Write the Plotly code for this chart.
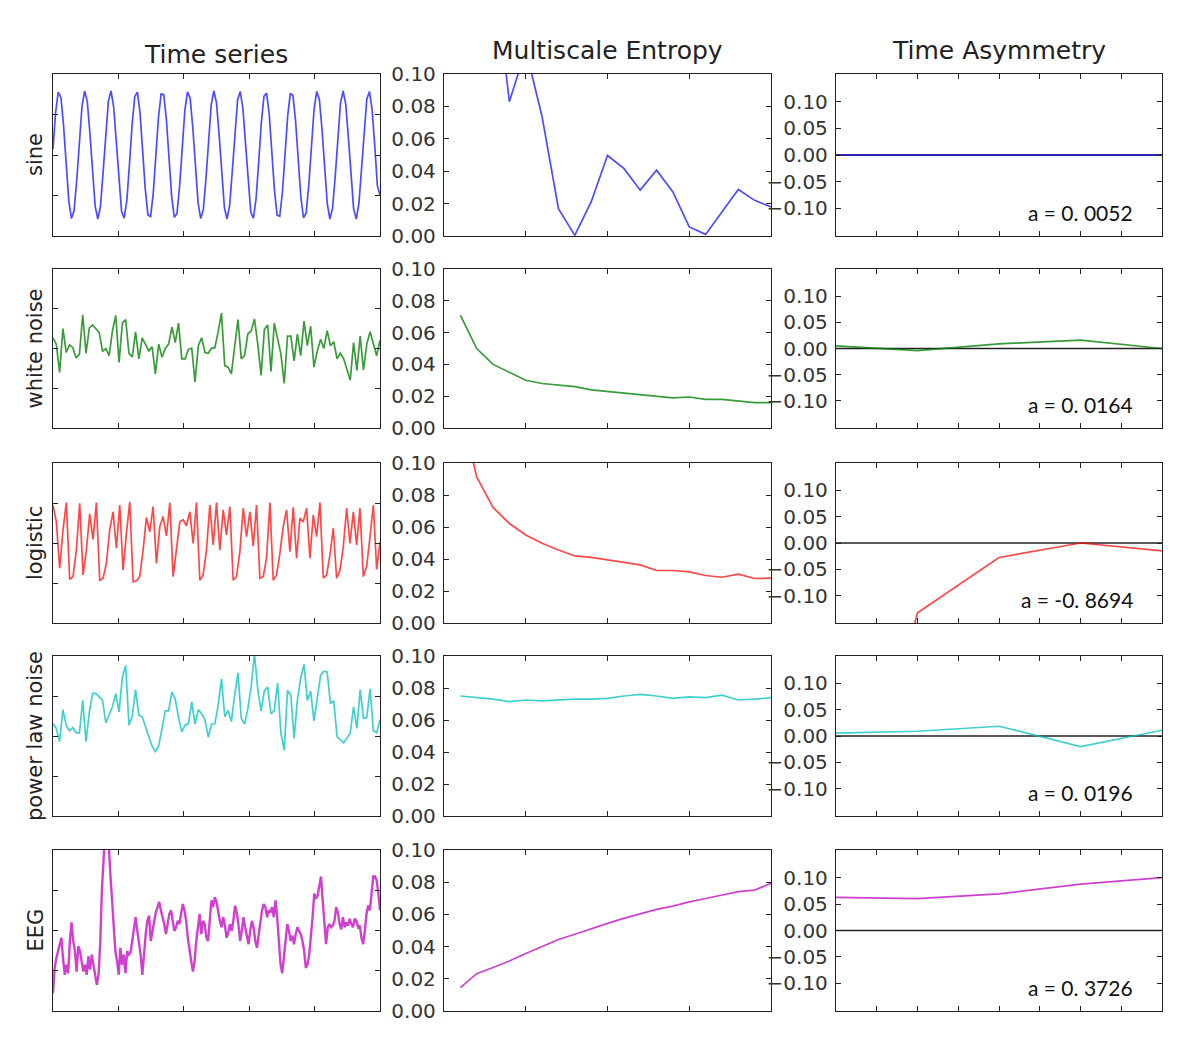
import plotly.graph_objects as go
from plotly.subplots import make_subplots

# ---------------- data ----------------
row_names = ["sine", "white noise", "logistic", "power law noise", "EEG"]
col_titles = ["Time series", "Multiscale Entropy", "Time Asymmetry"]
asym_labels = ["a = 0. 0052", "a = 0. 0164", "a = -0. 8694", "a = 0. 0196", "a = 0. 3726"]

sine_ts = [0.15, 1.06, 1.55, 1.42, 0.73, -0.25, -1.14, -1.57, -1.37, -0.63, 0.36, 1.21, 1.58, 1.32, 0.53,
           -0.46, -1.27, -1.58, -1.26, -0.43, 0.56, 1.33, 1.58, 1.19, 0.33, -0.66, -1.39, -1.56, -1.12,
           -0.23, 0.75, 1.44, 1.55, 1.04, 0.12, -0.85, -1.48, -1.52, -0.96, -0.01, 0.93, 1.51, 1.49, 0.87,
           -0.09, -1.02, -1.54, -1.45, -0.78, 0.20, 1.10, 1.56, 1.40, 0.69, -0.30, -1.17, -1.57, -1.35,
           -0.59, 0.41, 1.24, 1.58, 1.29, 0.49, -0.51, -1.30, -1.58, -1.23, -0.39, 0.61, 1.36, 1.57, 1.16,
           0.28, -0.70, -1.41, -1.56, -1.08, -0.18, 0.80, 1.45, 1.53, 1.00, 0.07, -0.89, -1.49, -1.51,
           -0.92, 0.03, 0.97, 1.52, 1.47, 0.83, -0.14, -1.05, -1.55, -1.43, -0.74, 0.24, 1.13, 1.57, 1.38,
           0.64, -0.35, -1.20, -1.58, -1.32, -0.55, 0.45, 1.27, 1.58, 1.26, 0.44, -0.55, -1.33, -1.58,
           -1.20, -0.34, 0.65, 1.38, 1.57, 1.12, 0.24, -0.75, -1.00]

white_ts = [0.27, 0.11, -0.60, 0.50, -0.10, 0.09, 0.02, -0.24, -0.14, 0.85, -0.12, 0.52, 0.59, 0.48, 0.40,
            -0.07, 0.00, -0.18, 0.44, 0.83, -0.35, 0.64, 0.73, -0.12, -0.21, 0.42, -0.26, 0.27, 0.12, -0.06,
            0.04, -0.64, 0.11, -0.22, 0.00, 0.11, 0.54, 0.15, 0.64, -0.26, -0.26, -0.02, 0.01, -0.84, 0.07,
            0.27, -0.10, -0.12, 0.01, 0.02, 0.42, 0.89, -0.43, -0.47, -0.64, 0.02, 0.73, -0.26, -0.18, 0.37,
            0.44, 0.74, 0.11, -0.68, 0.48, 0.59, -0.58, 0.64, 0.27, -0.14, -0.88, 0.31, 0.31, -0.31, 0.36,
            -0.18, 0.69, 0.07, 0.56, -0.47, -0.07, 0.23, 0.00, 0.45, 0.07, 0.17, -0.26, -0.12, -0.26, -0.51,
            -0.80, 0.15, -0.55, 0.31, -0.54, 0.11, 0.42, 0.12, -0.18, 0.21]

logistic_ts = [0.95, 0.53, -0.63, 0.33, 1.01, -0.91, -0.84, -0.18, 0.99, -0.80, -0.18, 0.73, 0.09, 1.01,
               -0.94, -0.88, -0.51, 0.33, 0.78, -0.13, 0.95, -0.68, 0.24, 1.03, -0.97, -0.95, -0.84, -0.18,
               0.64, 0.28, 0.91, -0.51, 0.41, 0.66, 0.18, 1.01, -0.84, -0.18, 0.53, 0.58, 0.43, 0.78, -0.01,
               1.01, -0.93, -0.80, -0.18, 0.95, -0.05, 1.01, -0.18, 0.83, 0.20, 0.91, -0.93, -0.84, -0.22,
               0.87, 0.16, 0.78, -0.08, 0.95, -0.88, -0.84, -0.38, 1.01, -0.93, -0.80, -0.26, 0.41, 0.83,
               -0.22, 0.89, -0.38, 0.62, 0.53, 0.87, -0.38, 0.70, 0.16, 1.01, -0.88, -0.80, -0.30, 0.37,
               -0.88, -0.68, -0.09, 0.87, -0.01, 0.78, -0.05, 0.87, -0.84, -0.59, 0.16, 0.95, -0.66, 0.03]

power_ts = [0.31, 0.19, -0.14, 0.66, 0.27, 0.13, 0.21, 0.08, 0.08, 0.89, -0.14, 0.60, 1.07, 1.06, 0.98,
            0.89, 0.33, 0.55, 0.73, 1.06, 0.60, 1.47, 1.76, 0.27, 0.50, 1.16, 0.52, 0.48, 0.21, -0.02,
            -0.25, -0.39, -0.25, 0.21, 0.63, 0.63, 1.10, 0.93, 0.46, 0.11, 0.27, 0.31, 0.85, 0.30, 0.66,
            0.55, 0.41, -0.03, 0.30, 0.30, 0.77, 1.43, 0.48, 0.64, 0.36, 1.02, 1.58, 0.44, 0.30, 0.69,
            1.24, 2.05, 1.16, 0.63, 1.14, 1.22, 0.55, 0.64, 1.32, 0.07, -0.36, 1.14, 1.02, -0.06, 0.91,
            1.45, 1.79, 0.89, 1.12, 0.38, 0.89, 1.51, 1.62, 1.60, 0.81, 0.88, -0.02, -0.10, -0.17, -0.06,
            0.08, 0.73, 0.19, 1.16, 0.44, 0.46, 1.18, 0.13, 0.08, 0.41]

eeg_ts = [-1.56, -0.93, -0.68, -0.51, -0.34, -0.18, -0.72, -1.10, -0.85, -1.06, -0.26, 0.20, -0.26, -0.51,
          -1.02, -0.39, -0.51, -0.76, -1.02, -0.85, -1.10, -0.64, -0.97, -0.60, -0.85, -1.18, -1.35, -1.10,
          -0.34, 1.00, 2.30, 2.50, 2.50, 2.20, 1.42, 0.75, 0.24, -0.51, -0.76, -1.10, -0.43, -0.85, -0.60,
          -1.06, -0.51, -0.60, -0.55, -0.26, 0.08, 0.33, -0.01, -0.34, -0.60, -1.10, -0.51, -0.09, 0.24,
          0.37, -0.26, -0.01, 0.24, 0.45, 0.58, 0.71, 0.50, 0.33, 0.16, -0.09, 0.12, 0.41, 0.50, 0.24,
          -0.01, 0.08, 0.24, 0.16, 0.45, 0.66, 0.50, 0.24, -0.18, -0.51, -0.76, -1.02, -0.76, -0.26, 0.16,
          0.41, -0.09, 0.24, 0.16, -0.18, -0.26, 0.33, 0.75, 0.58, 0.83, 0.71, 0.41, 0.24, 0.08, 0.33,
          0.12, -0.18, -0.05, 0.16, -0.01, 0.24, 0.62, 0.45, 0.16, -0.26, -0.01, 0.33, 0.08, -0.18, -0.34,
          -0.01, 0.24, 0.08, -0.26, -0.43, -0.09, 0.24, 0.50, 0.66, 0.58, 0.33, 0.50, 0.45, 0.58, 0.33,
          0.75, 0.33, -0.26, -0.85, -1.06, -0.60, -0.18, 0.16, -0.01, -0.26, -0.13, -0.34, -0.09, 0.08,
          -0.01, -0.09, -0.26, -0.51, -0.93, -0.85, -0.60, -0.18, 0.33, 0.92, 0.79, 0.87, 1.08, 1.34, 0.75,
          0.24, -0.34, 0.08, 0.16, 0.08, 0.12, 0.24, 0.58, 0.45, 0.16, 0.03, 0.33, 0.08, 0.20, 0.12, 0.29,
          0.16, 0.08, 0.29, 0.24, 0.08, 0.12, -0.18, -0.34, -0.01, 0.41, 0.62, 0.50, 0.92, 1.34, 1.34,
          1.25, 0.92, 0.50]

mse_scales = list(range(1, 21))
sine_mse = [0.35, 0.25, 0.168, 0.083, 0.115, 0.0736, 0.0169, 0.0004, 0.021, 0.0497, 0.0417, 0.0283,
            0.0406, 0.0272, 0.0056, 0.001, 0.0148, 0.0287, 0.022, 0.0179]
white_mse = [0.071, 0.050, 0.040, 0.035, 0.030, 0.028, 0.027, 0.026, 0.024, 0.023, 0.022, 0.021,
             0.020, 0.019, 0.0195, 0.018, 0.018, 0.017, 0.016, 0.016]
logistic_mse = [0.135, 0.0913, 0.0722, 0.0622, 0.055, 0.0498, 0.0456, 0.0419, 0.041, 0.0394, 0.0382,
                0.0363, 0.0328, 0.0328, 0.032, 0.0297, 0.0286, 0.0305, 0.0278, 0.028]
power_mse = [0.075, 0.074, 0.073, 0.0715, 0.0725, 0.072, 0.0725, 0.073, 0.073, 0.0735, 0.075, 0.076,
             0.075, 0.0735, 0.0745, 0.074, 0.0755, 0.0725, 0.073, 0.074]
eeg_mse = [0.0145, 0.0232, 0.027, 0.0311, 0.0357, 0.0402, 0.0444, 0.0477, 0.0512, 0.0544, 0.0575,
           0.0602, 0.0631, 0.0651, 0.0678, 0.0699, 0.072, 0.0741, 0.0751, 0.0793]

asym_scales = [0, 2, 4, 6, 8]
sine_asym = [0.0, 0.0, 0.0, 0.0, 0.0]
white_asym = [0.005, -0.004, 0.009, 0.016, 0.0]
logistic_asym = [-0.73, -0.1325, -0.0275, 0.0, -0.015]
power_asym = [0.0056, 0.009, 0.0185, -0.02, 0.011]
eeg_asym = [0.0625, 0.060, 0.069, 0.0875, 0.100]

series_ts = [sine_ts, white_ts, logistic_ts, power_ts, eeg_ts]
series_mse = [sine_mse, white_mse, logistic_mse, power_mse, eeg_mse]
series_asym = [sine_asym, white_asym, logistic_asym, power_asym, eeg_asym]
colors = ["rgba(0,0,255,0.70)", "rgba(0,128,0,0.78)", "rgba(255,0,0,0.72)",
          "rgba(0,191,191,0.75)", "rgba(191,0,191,0.75)"]

# ---------------- layout ----------------
W, H = 1200, 1054
OFF = 8  # page body margin
col_px = [(53, 380), (444, 771), (836, 1162)]
row_px = [(74, 236), (269, 428), (463, 623), (656, 816), (850, 1011)]
FONT = "DejaVu Sans"


def px_x(p):
    return (p - OFF) / W


def px_y(p):
    return 1 - (p - OFF) / H


fig = make_subplots(rows=5, cols=3)

axis_common = dict(showline=True, linecolor="#222", linewidth=1.3, mirror="ticks",
                   ticks="inside", ticklen=5, tickcolor="#222", tickwidth=1,
                   showgrid=False, zeroline=False, automargin=False)

for r in range(5):
    for c in range(3):
        x0, x1 = col_px[c]
        y0, y1 = row_px[r]
        fig.update_xaxes(domain=[px_x(x0), px_x(x1)], row=r + 1, col=c + 1, **axis_common)
        fig.update_yaxes(domain=[px_y(y1), px_y(y0)], row=r + 1, col=c + 1, **axis_common)

    # time series
    ts = series_ts[r]
    n = len(ts)
    fig.add_trace(go.Scatter(x=list(range(n)), y=ts, mode="lines",
                             line=dict(color=colors[r], width=2.4 if r == 4 else 1.7),
                             showlegend=False), row=r + 1, col=1)
    fig.update_xaxes(range=[0, n - 1], tickvals=[(n - 1) * f for f in (0.2, 0.4, 0.6, 0.8)],
                     showticklabels=False, row=r + 1, col=1)
    fig.update_yaxes(range=[-2, 2], tickvals=[-1, 0, 1], showticklabels=False, row=r + 1, col=1)

    # multiscale entropy
    fig.add_trace(go.Scatter(x=mse_scales, y=series_mse[r], mode="lines",
                             line=dict(color=colors[r], width=1.7), showlegend=False),
                  row=r + 1, col=2)
    fig.update_xaxes(range=[0, 20], tickvals=[5, 10, 15], showticklabels=False, row=r + 1, col=2)
    fig.update_yaxes(range=[0, 0.1], tickvals=[0, 0.02, 0.04, 0.06, 0.08, 0.10], tickformat=".2f",
                     showticklabels=True, tickfont=dict(family=FONT, size=20, color="#333"),
                     ticklabelstandoff=3, row=r + 1, col=2)

    # time asymmetry
    fig.add_trace(go.Scatter(x=asym_scales, y=series_asym[r], mode="lines",
                             line=dict(color=colors[r], width=1.7), showlegend=False),
                  row=r + 1, col=3)
    fig.add_hline(y=0, line=dict(color="#222", width=1.5), layer="below", row=r + 1, col=3,
                  exclude_empty_subplots=False)
    fig.update_xaxes(range=[0, 8], tickvals=[1, 2, 3, 4, 5, 6, 7], showticklabels=False,
                     row=r + 1, col=3)
    fig.update_yaxes(range=[-0.152, 0.152], tickvals=[-0.1, -0.05, 0, 0.05, 0.1], tickformat=".2f",
                     showticklabels=True, tickfont=dict(family=FONT, size=20, color="#333"),
                     ticklabelstandoff=3, row=r + 1, col=3)

    idx = r * 3 + 3
    fig.add_annotation(x=7.34, y=-0.107, xref=f"x{idx}", yref=f"y{idx}", text=asym_labels[r],
                       showarrow=False, xanchor="right", yanchor="middle",
                       font=dict(family="Lato", size=21, color="#111"))

    # row label
    yc = (row_px[r][0] + row_px[r][1]) / 2
    fig.add_annotation(x=px_x(35), y=px_y(yc), xref="paper", yref="paper", text=row_names[r],
                       textangle=-90, showarrow=False, xanchor="center", yanchor="middle",
                       font=dict(family=FONT, size=21, color="#222"))

title_y = [55, 51, 51]
for c in range(3):
    xc = (col_px[c][0] + col_px[c][1]) / 2
    fig.add_annotation(x=px_x(xc), y=px_y(title_y[c]), xref="paper", yref="paper", text=col_titles[c],
                       showarrow=False, xanchor="center", yanchor="middle",
                       font=dict(family=FONT, size=25, color="#222"))

fig.update_layout(width=W, height=H, margin=dict(l=0, r=0, t=0, b=0, autoexpand=False),
                  paper_bgcolor="white", plot_bgcolor="rgba(0,0,0,0)",
                  font=dict(family=FONT, color="#222"))

fig.write_html("out.html")
